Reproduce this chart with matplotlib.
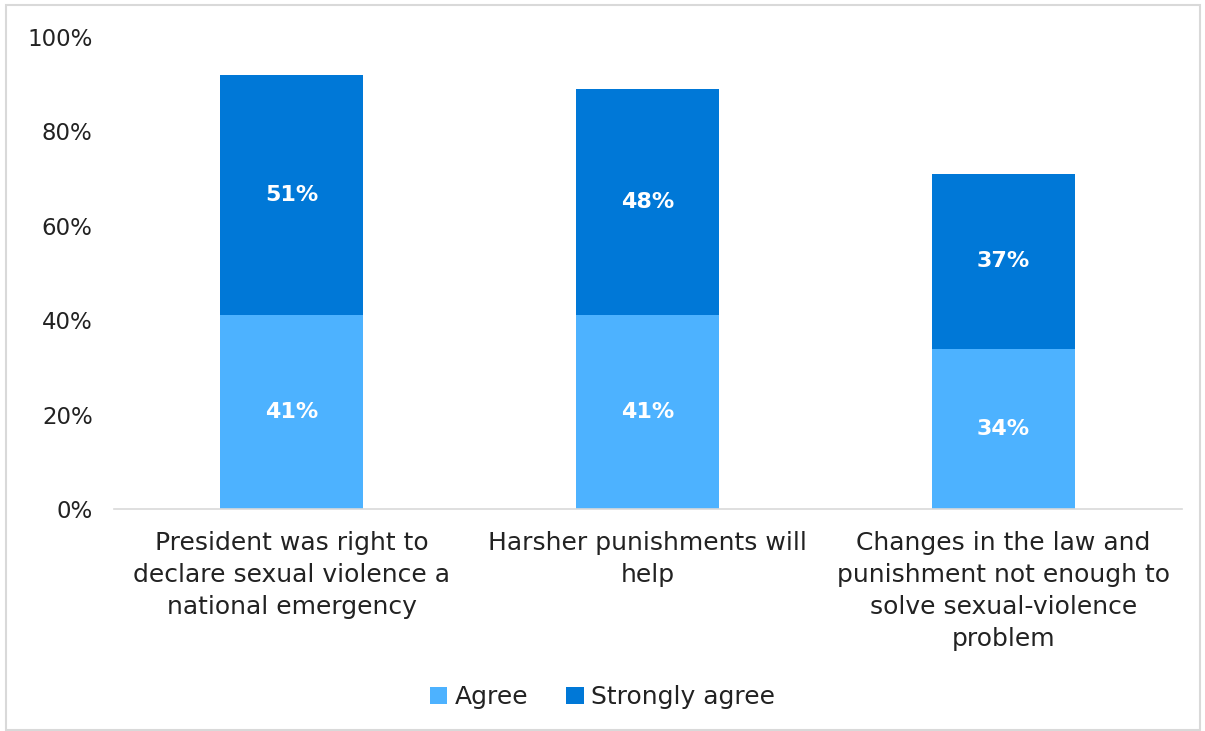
import matplotlib
matplotlib.use("Agg")
import matplotlib.pyplot as plt
from matplotlib.patches import Rectangle
from matplotlib.ticker import FuncFormatter

categories = [
    "President was right to\ndeclare sexual violence a\nnational emergency",
    "Harsher punishments will\nhelp",
    "Changes in the law and\npunishment not enough to\nsolve sexual-violence\nproblem",
]
agree = [41, 41, 34]
strongly_agree = [51, 48, 37]
series_names = ["Agree", "Strongly agree"]
colors = ["#4DB2FF", "#0078D7"]

plt.rcParams['font.family'] = ['DejaVu Sans']

fig = plt.figure(figsize=(12.05, 7.31), dpi=100)
ax = fig.add_axes([113.5/1205, 222/731, 1068/1205, 472/731])

x = list(range(len(categories)))
b1 = ax.bar(x, agree, width=0.40, color=colors[0], label=series_names[0])
b2 = ax.bar(x, strongly_agree, width=0.40, bottom=agree, color=colors[1], label=series_names[1])

for i in x:
    ax.text(i, agree[i]/2, f"{agree[i]}%", ha="center", va="center",
            color="white", fontsize=16, fontweight="bold")
    ax.text(i, agree[i] + strongly_agree[i]/2, f"{strongly_agree[i]}%", ha="center", va="center",
            color="white", fontsize=16, fontweight="bold")

ax.set_xlim(-0.5, len(categories) - 0.5)
ax.set_ylim(0, 100)
ax.set_yticks([0, 20, 40, 60, 80, 100])
ax.yaxis.set_major_formatter(FuncFormatter(lambda v, p: f"{int(v)}%"))
ax.tick_params(axis="y", length=0, labelsize=16.5, colors="#222222", pad=15)
ax.tick_params(axis="x", length=0, labelsize=18, colors="#222222", pad=16)
ax.set_xticks(x)
ax.set_xticklabels(categories, linespacing=1.42, va="top")
for s in ["top", "right", "left"]:
    ax.spines[s].set_visible(False)
ax.spines["bottom"].set_color("#D9D9D9")
ax.spines["bottom"].set_linewidth(1.2)

leg = fig.legend(handles=[b1, b2], labels=series_names, loc="center",
                 bbox_to_anchor=(0.5, 1 - 697/731), ncol=2, frameon=False,
                 fontsize=18, handlelength=0.7, handleheight=0.7,
                 handletextpad=0.3, columnspacing=1.5)
for t in leg.get_texts():
    t.set_color("#222222")

fig.patches.append(Rectangle((6/1205, 1/731), 1194/1205, 725/731, transform=fig.transFigure,
                             fill=False, edgecolor="#D9D9D9", linewidth=1.5))

fig.savefig("out.png", dpi=100)
